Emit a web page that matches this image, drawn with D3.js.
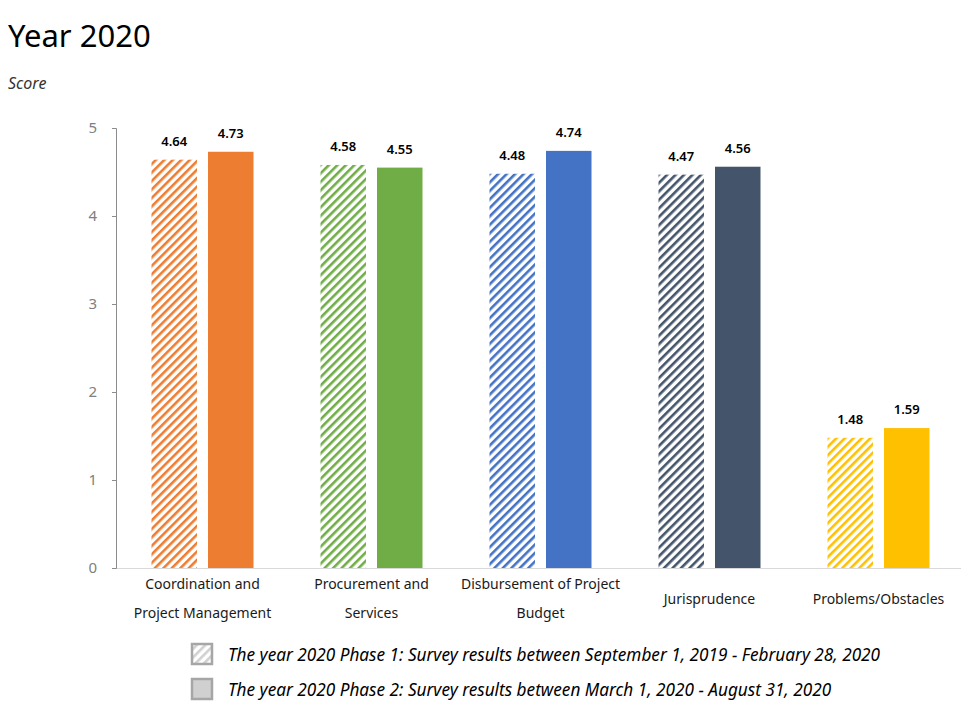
<!DOCTYPE html>
<html><head><meta charset="utf-8">
<script src="https://cdn.jsdelivr.net/npm/d3@7"></script>
<style>body{margin:0;background:#fff;} text{font-family:"Noto Sans",sans-serif;}</style>
</head><body>
<svg id="c" width="980" height="718"></svg>
<script>
const categories = [["Coordination and","Project Management"],["Procurement and","Services"],["Disbursement of Project","Budget"],["Jurisprudence"],["Problems/Obstacles"]];
const phase1 = [4.64, 4.58, 4.48, 4.47, 1.48];
const phase2 = [4.73, 4.55, 4.74, 4.56, 1.59];
const colors = ["#ED7D31","#70AD47","#4472C4","#44546A","#FFC000"];
const yTicks = [0,1,2,3,4,5];
const legendLabels = ["The year 2020 Phase 1: Survey results between September 1, 2019 - February 28, 2020","The year 2020 Phase 2: Survey results between March 1, 2020 - August 31, 2020"];

const svg = d3.select("#c");
const x0 = 116, x1 = 961, yTop = 128, yBot = 568;
const x = d3.scaleBand().domain(d3.range(categories.length)).range([x0+2, x1+2]).paddingInner(0).paddingOuter(0);
const y = d3.scaleLinear().domain([0,5]).range([yBot, yTop]);
const bw = 45.5, gap = 11;

const defs = svg.append("defs");
colors.forEach((c,i)=>{
  const p = defs.append("pattern").attr("id","h"+i).attr("patternUnits","userSpaceOnUse")
    .attr("width",6).attr("height",6).attr("patternTransform","rotate(45)");
  p.append("rect").attr("width",6).attr("height",6).attr("fill","#fff");
  p.append("rect").attr("x",0).attr("width",2.6).attr("height",6).attr("fill",c);
});
const lp = defs.append("pattern").attr("id","hl").attr("patternUnits","userSpaceOnUse")
    .attr("width",6).attr("height",6).attr("patternTransform","rotate(45)");
lp.append("rect").attr("width",6).attr("height",6).attr("fill","#fff");
lp.append("rect").attr("width",2.6).attr("height",6).attr("fill","#d0d0d0");

// title
svg.append("text").attr("x",8).attr("y",47).attr("font-size",31).attr("fill","#000").text("Year 2020");
svg.append("text").attr("x",8).attr("y",89).attr("font-size",16).attr("font-style","italic").attr("fill","#333").text("Score");

// baseline
svg.append("line").attr("x1",x0).attr("x2",x1).attr("y1",y(0)+0.5).attr("y2",y(0)+0.5).attr("stroke","#d9d9d9").attr("stroke-width",1);

// y axis
const ya = svg.append("g").attr("transform",`translate(${x0},0)`)
  .call(d3.axisLeft(y).tickValues(yTicks).tickFormat(d3.format("d")).tickSize(4).tickSizeOuter(4));
ya.select(".domain").attr("stroke","#8c8c8c");
ya.selectAll(".tick line").attr("stroke","#8c8c8c");
ya.selectAll(".tick text").attr("font-size",15).attr("fill","#808080").attr("x",-19).attr("font-family","Noto Sans, sans-serif");

// bars
const g = svg.append("g");
categories.forEach((cat,i)=>{
  const cx = x(i) + x.bandwidth()/2;
  const xa = cx - gap/2 - bw, xb = cx + gap/2;
  g.append("rect").attr("x",xa).attr("y",y(phase1[i])).attr("width",bw).attr("height",y(0)-y(phase1[i])).attr("fill",`url(#h${i})`);
  g.append("rect").attr("x",xb).attr("y",y(phase2[i])).attr("width",bw).attr("height",y(0)-y(phase2[i])).attr("fill",colors[i]);
  g.append("text").attr("x",xa+bw/2).attr("y",y(phase1[i])-14).attr("text-anchor","middle").attr("font-size",13).attr("font-weight","600").attr("fill","#000").text(phase1[i].toFixed(2));
  g.append("text").attr("x",xb+bw/2).attr("y",y(phase2[i])-14).attr("text-anchor","middle").attr("font-size",13).attr("font-weight","600").attr("fill","#000").text(phase2[i].toFixed(2));
  const t = g.append("text").attr("text-anchor","middle").attr("font-size",14).attr("fill","#1a1a1a");
  cat.forEach((line,k)=>{
    t.append("tspan").attr("x",cx).attr("y",589 + k*29 + (cat.length===1?14.5:0)).text(line);
  });
});

// legend
legendLabels.forEach((lab,i)=>{
  const ly = 643 + i*35;
  svg.append("rect").attr("x",192).attr("y",ly+1).attr("width",20).attr("height",20)
    .attr("fill", i===0 ? "url(#hl)" : "#d0d0d0").attr("stroke","#a6a6a6").attr("stroke-width",2.5);
  svg.append("text").attr("x",228).attr("y",ly+18).attr("font-size",17.2).attr("font-style","italic").attr("fill","#000").text(lab);
});
</script>
</body></html>
